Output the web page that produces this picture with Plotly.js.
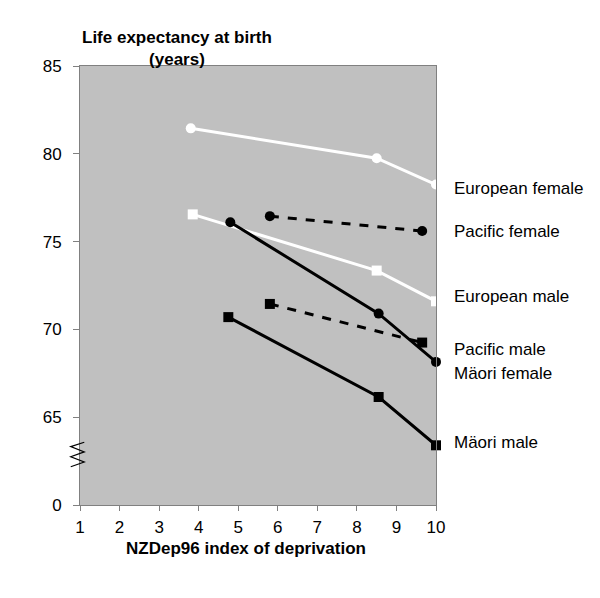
<!DOCTYPE html>
<html><head><meta charset="utf-8">
<script src="https://cdn.plot.ly/plotly-3.0.1.min.js"></script>
<style>html,body{margin:0;padding:0;background:#fff}</style>
</head><body><div id="chart" style="width:600px;height:598px"></div>
<script>
// Data
const euroFemaleX = [3.8, 8.5, 10];
const euroFemaleY = [81.45, 79.75, 78.25];
const euroMaleX = [3.85, 8.5, 10];
const euroMaleY = [76.55, 73.35, 71.6];
const pacFemaleX = [5.8, 9.65];
const pacFemaleY = [76.45, 75.6];
const pacMaleX = [5.8, 9.65];
const pacMaleY = [71.45, 69.25];
const maoriFemaleX = [4.8, 8.55, 10];
const maoriFemaleY = [76.1, 70.9, 68.15];
const maoriMaleX = [4.75, 8.55, 10];
const maoriMaleY = [70.7, 66.15, 63.4];

const seriesLabels = ["European female", "Pacific female", "European male", "Pacific male", "Mäori female", "Mäori male"];
const labelY = [78.05, 75.55, 71.85, 68.85, 67.5, 63.55];

const yTickVals = [60, 65, 70, 75, 80, 85];
const yTickText = ["0", "65", "70", "75", "80", "85"];
const xTickVals = [1, 2, 3, 4, 5, 6, 7, 8, 9, 10];

const font = "Liberation Sans, Arial, sans-serif";

function tr(x, y, color, symbol, dash) {
  return {
    x: x, y: y, type: "scatter", mode: "lines+markers",
    line: {color: color, width: 3, dash: dash},
    marker: {color: color, symbol: symbol, size: 10},
    cliponaxis: false, showlegend: false, hoverinfo: "skip"
  };
}

const data = [
  tr(euroFemaleX, euroFemaleY, "#ffffff", "circle", "solid"),
  tr(euroMaleX, euroMaleY, "#ffffff", "square", "solid"),
  tr(pacFemaleX, pacFemaleY, "#000000", "circle", "dash"),
  tr(pacMaleX, pacMaleY, "#000000", "square", "dash"),
  tr(maoriFemaleX, maoriFemaleY, "#000000", "circle", "solid"),
  tr(maoriMaleX, maoriMaleY, "#000000", "square", "solid")
];

const annotations = seriesLabels.map((t, i) => ({
  text: t, xref: "paper", yref: "y", x: 1.045, y: labelY[i],
  xanchor: "left", yanchor: "middle", showarrow: false,
  font: {family: font, size: 17, color: "#000"}
}));
annotations.push({
  text: "<b>Life expectancy at birth<br>(years)</b>", xref: "paper", yref: "paper",
  x: 0.272, y: 1.041, xanchor: "center", yanchor: "middle", showarrow: false,
  font: {family: font, size: 17, color: "#000"}
});
annotations.push({
  text: "<b>NZDep96 index of deprivation</b>", xref: "paper", yref: "paper",
  x: 0.466, y: -0.1, xanchor: "center", yanchor: "middle", showarrow: false,
  font: {family: font, size: 17, color: "#000"}
});

const layout = {
  width: 600, height: 598,
  margin: {l: 80, r: 164, t: 66, b: 93},
  paper_bgcolor: "#ffffff", plot_bgcolor: "#c0c0c0",
  font: {family: font, size: 16, color: "#000"},
  xaxis: {
    range: [1, 10], tickvals: xTickVals, ticks: "outside", ticklen: 5, tickcolor: "#808080",
    showgrid: false, zeroline: false, showline: true, linecolor: "#808080", linewidth: 1,
    mirror: true, tickfont: {family: font, size: 17}, ticklabelstandoff: 2
  },
  yaxis: {
    range: [60, 85], tickvals: yTickVals, ticktext: yTickText, ticks: "outside", ticklen: 6,
    tickcolor: "#808080", showgrid: false, zeroline: false, showline: true,
    linecolor: "#808080", linewidth: 1, mirror: true, tickfont: {family: font, size: 17},
    ticklabelstandoff: 8
  },
  shapes: [{
    type: "path", xref: "paper", yref: "paper",
    path: "M 0.012 0.143 L -0.026 0.133 L 0.012 0.121 L -0.026 0.110 L 0.012 0.098 L -0.026 0.087",
    line: {color: "#000", width: 1.2}
  }],
  annotations: annotations
};

Plotly.newPlot("chart", data, layout, {staticPlot: true});
</script></body></html>
